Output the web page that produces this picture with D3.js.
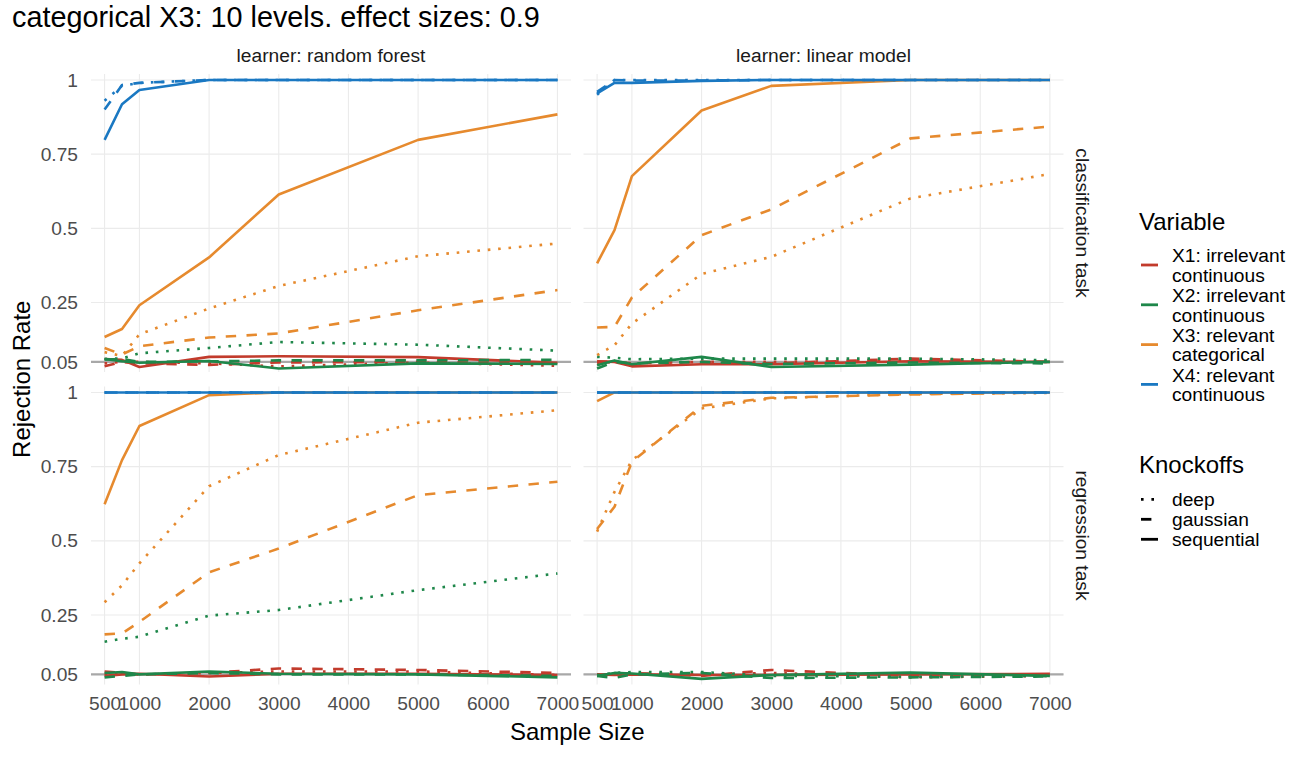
<!DOCTYPE html>
<html>
<head>
<meta charset="utf-8">
<script src="https://cdn.jsdelivr.net/npm/d3@7"></script>
<style>
  body { margin: 0; background: #fff; }
  svg { display: block; font-family: "Liberation Sans", Arial, Helvetica, sans-serif; }
</style>
</head>
<body>
<div id="chart"></div>
<script>
// sample sizes the simulation was run at
const sampleSizes = [500, 750, 1000, 2000, 3000, 5000, 7000];
const xTicks = [500, 1000, 2000, 3000, 4000, 5000, 6000, 7000];
const yTicks = [0.05, 0.25, 0.5, 0.75, 1];
const yTickLabels = ["0.05", "0.25", "0.5", "0.75", "1"];

const learners = ["learner: random forest", "learner: linear model"];
const tasks = ["classification task", "regression task"];
const variables = [
    ["X1: irrelevant", "continuous"],
    ["X2: irrelevant", "continuous"],
    ["X3: relevant", "categorical"],
    ["X4: relevant", "continuous"]
];
const knockoffs = ["deep", "gaussian", "sequential"];

// rejection rates, rows: X1 deep/gaussian/sequential, X2 ..., X3 ..., X4 ...
const classificationForest = [
    [0.045, 0.050, 0.050, 0.045, 0.035, 0.048, 0.037],
    [0.035, 0.050, 0.045, 0.040, 0.048, 0.050, 0.045],
    [0.060, 0.057, 0.033, 0.067, 0.069, 0.066, 0.047],
    [0.060, 0.062, 0.079, 0.097, 0.117, 0.108, 0.088],
    [0.058, 0.060, 0.050, 0.052, 0.055, 0.055, 0.057],
    [0.060, 0.052, 0.047, 0.053, 0.028, 0.045, 0.043],
    [0.083, 0.070, 0.143, 0.230, 0.306, 0.406, 0.449],
    [0.097, 0.075, 0.103, 0.132, 0.146, 0.224, 0.292],
    [0.134, 0.161, 0.241, 0.402, 0.614, 0.798, 0.884],
    [0.930, 0.980, 0.990, 1.000, 1.000, 1.000, 1.000],
    [0.900, 0.983, 0.990, 1.000, 1.000, 1.000, 1.000],
    [0.798, 0.918, 0.966, 1.000, 1.000, 1.000, 1.000]
];

const classificationLinear = [
    [0.045, 0.050, 0.045, 0.050, 0.050, 0.055, 0.050],
    [0.050, 0.050, 0.045, 0.050, 0.045, 0.061, 0.050],
    [0.052, 0.050, 0.035, 0.042, 0.042, 0.052, 0.050],
    [0.067, 0.064, 0.059, 0.061, 0.061, 0.061, 0.056],
    [0.028, 0.050, 0.045, 0.050, 0.043, 0.048, 0.045],
    [0.039, 0.055, 0.042, 0.067, 0.033, 0.041, 0.050],
    [0.073, 0.106, 0.179, 0.346, 0.404, 0.601, 0.683],
    [0.166, 0.168, 0.267, 0.477, 0.564, 0.803, 0.843],
    [0.382, 0.494, 0.676, 0.897, 0.980, 1.000, 1.000],
    [0.950, 1.000, 1.000, 1.000, 1.000, 1.000, 1.000],
    [0.960, 1.000, 0.998, 0.998, 1.000, 1.000, 1.000],
    [0.955, 0.990, 0.990, 0.997, 1.000, 1.000, 1.000]
];

const regressionForest = [
    [0.050, 0.050, 0.050, 0.055, 0.060, 0.060, 0.048],
    [0.060, 0.055, 0.050, 0.055, 0.070, 0.065, 0.055],
    [0.045, 0.050, 0.052, 0.043, 0.052, 0.052, 0.048],
    [0.160, 0.170, 0.177, 0.248, 0.267, 0.334, 0.390],
    [0.040, 0.045, 0.050, 0.055, 0.050, 0.050, 0.045],
    [0.055, 0.058, 0.050, 0.060, 0.052, 0.050, 0.040],
    [0.293, 0.350, 0.424, 0.684, 0.789, 0.898, 0.940],
    [0.185, 0.188, 0.227, 0.394, 0.474, 0.654, 0.699],
    [0.623, 0.772, 0.887, 0.991, 1.000, 1.000, 1.000],
    [1.000, 1.000, 1.000, 1.000, 1.000, 1.000, 1.000],
    [1.000, 1.000, 1.000, 1.000, 1.000, 1.000, 1.000],
    [1.000, 1.000, 1.000, 1.000, 1.000, 1.000, 1.000]
];

const regressionLinear = [
    [0.050, 0.050, 0.050, 0.050, 0.055, 0.040, 0.045],
    [0.048, 0.050, 0.055, 0.045, 0.065, 0.045, 0.050],
    [0.050, 0.048, 0.050, 0.048, 0.048, 0.050, 0.052],
    [0.048, 0.055, 0.058, 0.058, 0.045, 0.042, 0.045],
    [0.045, 0.038, 0.050, 0.055, 0.038, 0.040, 0.043],
    [0.045, 0.055, 0.053, 0.035, 0.048, 0.056, 0.045],
    [0.531, 0.665, 0.772, 0.946, 0.980, 0.995, 0.998],
    [0.540, 0.615, 0.766, 0.955, 0.982, 0.993, 1.000],
    [0.971, 1.000, 1.000, 1.000, 1.000, 1.000, 1.000],
    [1.000, 1.000, 1.000, 1.000, 1.000, 1.000, 1.000],
    [1.000, 1.000, 1.000, 1.000, 1.000, 1.000, 1.000],
    [1.000, 1.000, 1.000, 1.000, 1.000, 1.000, 1.000]
];

const colors = ["#C23B2C", "#1E874A", "#E68A2E", "#1A78C2"];
const dashes = ["2.6,7.8", "10.4,10.4", null];

const width = 1316, height = 758;
const panelW = 480, panelH = 298;
const panelX = [91, 583.5];
const panelY = [74, 386.5];

const svg = d3.select("#chart").append("svg")
    .attr("width", width)
    .attr("height", height);

const x = d3.scaleLinear().domain([305, 7195]).range([0, panelW]);
const y = d3.scaleLinear().domain([0.016, 1.02]).range([panelH, 0]);

const line = d3.line()
    .x((d, i) => x(sampleSizes[i]))
    .y(d => y(d));

const panels = [
    { row: 0, col: 0, values: classificationForest },
    { row: 0, col: 1, values: classificationLinear },
    { row: 1, col: 0, values: regressionForest },
    { row: 1, col: 1, values: regressionLinear }
];

panels.forEach(p => {
    const g = svg.append("g")
        .attr("transform", `translate(${panelX[p.col]},${panelY[p.row]})`);

    // grid
    g.selectAll(".vgrid").data(xTicks).enter().append("line")
        .attr("x1", d => x(d)).attr("x2", d => x(d))
        .attr("y1", 0).attr("y2", panelH)
        .attr("stroke", "#EBEBEB").attr("stroke-width", 1.1);
    g.selectAll(".hgrid").data(yTicks).enter().append("line")
        .attr("x1", 0).attr("x2", panelW)
        .attr("y1", d => y(d)).attr("y2", d => y(d))
        .attr("stroke", "#EBEBEB").attr("stroke-width", 1.1);

    // reference level
    g.append("line")
        .attr("x1", 0).attr("x2", panelW)
        .attr("y1", y(0.05)).attr("y2", y(0.05))
        .attr("stroke", "#A8A8A8").attr("stroke-width", 2.2);

    p.values.forEach((vals, i) => {
        const v = Math.floor(i / 3), k = i % 3;
        g.append("path")
            .datum(vals)
            .attr("d", line)
            .attr("fill", "none")
            .attr("stroke", colors[v])
            .attr("stroke-width", 2.6)
            .attr("stroke-dasharray", dashes[k])
            .attr("stroke-linejoin", "round");
    });

    if (p.col === 0) {
        const ax = g.append("g")
            .call(d3.axisLeft(y).tickValues(yTicks)
                .tickFormat((d, i) => yTickLabels[i]).tickSize(0).tickPadding(13));
        ax.select(".domain").remove();
        ax.selectAll("text").attr("fill", "#4D4D4D").style("font-size", "19.2px")
            .attr("font-family", null);
    }
    if (p.row === 1) {
        const ax = g.append("g")
            .attr("transform", `translate(0,${panelH})`)
            .call(d3.axisBottom(x).tickValues(xTicks).tickFormat(d3.format("d"))
                .tickSize(0).tickPadding(12));
        ax.select(".domain").remove();
        ax.selectAll("text").attr("fill", "#4D4D4D").style("font-size", "19.2px")
            .attr("font-family", null);
    }
    if (p.row === 0) {
        g.append("text")
            .attr("x", panelW / 2).attr("y", -12)
            .attr("text-anchor", "middle")
            .attr("fill", "#1A1A1A")
            .style("font-size", "19.2px")
            .text(learners[p.col]);
    }
    if (p.col === 1) {
        g.append("text")
            .attr("transform", `translate(${panelW + 12.5},${panelH / 2}) rotate(90)`)
            .attr("text-anchor", "middle")
            .attr("fill", "#1A1A1A")
            .style("font-size", "19.2px")
            .text(tasks[p.row]);
    }
});

// title sits high, as in the original export
svg.append("text")
    .attr("x", 12).attr("y", 27)
    .style("font-size", "28.8px")
    .text("categorical X3: 10 levels. effect sizes: 0.9");

svg.append("text")
    .attr("x", (panelX[0] + panelX[1] + panelW) / 2).attr("y", 739.5)
    .attr("text-anchor", "middle")
    .style("font-size", "24px")
    .text("Sample Size");

svg.append("text")
    .attr("transform", `translate(30,${(panelY[0] + panelY[1] + panelH) / 2}) rotate(-90)`)
    .attr("text-anchor", "middle")
    .style("font-size", "24px")
    .text("Rejection Rate");

// legends
const legend = svg.append("g").attr("transform", "translate(1139,0)");

legend.append("text")
    .attr("x", 0).attr("y", 230)
    .style("font-size", "24px")
    .text("Variable");

variables.forEach((lab, i) => {
    const ky = 265 + i * 39.8;
    legend.append("line")
        .attr("x1", 2).attr("x2", 19)
        .attr("y1", ky).attr("y2", ky)
        .attr("stroke", colors[i]).attr("stroke-width", 2.8);
    const t = legend.append("text")
        .attr("x", 33).attr("y", ky - 2.7)
        .style("font-size", "19.2px");
    lab.forEach((s, j) => {
        t.append("tspan").attr("x", 33).attr("dy", j === 0 ? 0 : 19.4).text(s);
    });
});

legend.append("text")
    .attr("x", 0).attr("y", 472.7)
    .style("font-size", "24px")
    .text("Knockoffs");

knockoffs.forEach((lab, i) => {
    const ky = 499.3 + i * 20;
    legend.append("line")
        .attr("x1", 2).attr("x2", 19)
        .attr("y1", ky).attr("y2", ky)
        .attr("stroke", "#000").attr("stroke-width", 2.8)
        .attr("stroke-dasharray", dashes[i]);
    legend.append("text")
        .attr("x", 33).attr("y", ky + 6.5)
        .style("font-size", "19.2px")
        .text(lab);
});
</script>
</body>
</html>
